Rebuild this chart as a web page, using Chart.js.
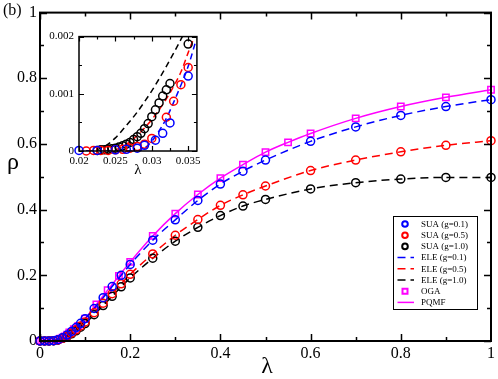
<!DOCTYPE html>
<html>
<head>
<meta charset="utf-8">
<script src="https://cdn.jsdelivr.net/npm/chart.js@4.4.1/dist/chart.umd.min.js"></script>
<style>
  body { margin: 0; background: #fff; }
  #wrap { position: relative; width: 498px; height: 379px; }
  #mainChart { position: absolute; left: 0; top: 0; }
  #insetChart { position: absolute; left: 40px; top: 25px; }
</style>
</head>
<body>
<div id="wrap">
  <canvas id="mainChart" width="498" height="379"></canvas>
  <canvas id="insetChart" width="165" height="155"></canvas>
</div>
<script>
// main panel
const lambdaSUA = [0, 0.01, 0.02, 0.03, 0.04, 0.05, 0.06, 0.07, 0.08, 0.09, 0.1, 0.12, 0.14, 0.16, 0.18, 0.2, 0.25, 0.3, 0.35, 0.4, 0.45, 0.5, 0.6, 0.7, 0.8, 0.9, 1.0];
const suaG01 = [0, 0, 0, 0.001, 0.004, 0.01, 0.018, 0.029, 0.041, 0.054, 0.068, 0.099, 0.132, 0.166, 0.2, 0.233, 0.307, 0.369, 0.428, 0.478, 0.517, 0.551, 0.608, 0.652, 0.687, 0.714, 0.735];
const suaG05 = [0, 0, 0, 0.001, 0.003, 0.008, 0.015, 0.024, 0.034, 0.046, 0.058, 0.086, 0.115, 0.144, 0.174, 0.203, 0.265, 0.322, 0.37, 0.413, 0.445, 0.472, 0.519, 0.551, 0.576, 0.596, 0.61];
const suaG10 = [0, 0, 0, 0.001, 0.003, 0.008, 0.014, 0.022, 0.031, 0.042, 0.053, 0.08, 0.108, 0.136, 0.165, 0.192, 0.252, 0.304, 0.346, 0.382, 0.411, 0.431, 0.463, 0.482, 0.493, 0.498, 0.498];
const lambdaOGA = [0, 0.005, 0.01, 0.015, 0.02, 0.025, 0.03, 0.035, 0.04, 0.045, 0.05, 0.055, 0.06, 0.065, 0.075, 0.085, 0.1, 0.125, 0.15, 0.175, 0.2, 0.25, 0.3, 0.35, 0.4, 0.45, 0.5, 0.55, 0.6, 0.7, 0.8, 0.9, 1.0];
const ogaValues = [0, 0, 0, 0, 0, 0, 0.001, 0.002, 0.004, 0.007, 0.01, 0.014, 0.019, 0.026, 0.036, 0.046, 0.068, 0.111, 0.155, 0.198, 0.241, 0.32, 0.388, 0.446, 0.496, 0.537, 0.575, 0.605, 0.632, 0.678, 0.714, 0.742, 0.765];
const mainXTicks = [0, 0.2, 0.4, 0.6, 0.8, 1];
const mainYTicks = [0, 0.2, 0.4, 0.6, 0.8, 1];
const mainXLabels = ["0", "0.2", "0.4", "0.6", "0.8", "1"];
const mainYLabels = ["0", "0.2", "0.4", "0.6", "0.8", "1"];

// inset
const insetLambdaG01 = [0.02, 0.0225, 0.025, 0.0265, 0.028, 0.029, 0.0305, 0.0315, 0.0325, 0.035];
const insetSuaG01 = [0.00001, 0.00001, 0.00002, 0.00003, 0.00005, 0.0001, 0.00019, 0.00031, 0.00049, 0.00131];
const insetLambdaG05 = [0.021, 0.022, 0.023, 0.024, 0.025, 0.026, 0.027, 0.028, 0.029, 0.03, 0.032, 0.033, 0.034, 0.035];
const insetSuaG05 = [0, 0.00001, 0.00001, 0.00001, 0.00002, 0.00003, 0.00005, 0.00008, 0.00012, 0.00022, 0.00059, 0.00087, 0.00116, 0.00146];
const insetLambdaG10 = [0.0225, 0.023, 0.0235, 0.024, 0.0245, 0.025, 0.0255, 0.026, 0.0265, 0.027, 0.0275, 0.028, 0.0285, 0.029, 0.0295, 0.03, 0.0305, 0.031, 0.0315, 0.032, 0.0325, 0.035];
const insetSuaG10 = [0.00001, 0.00002, 0.00002, 0.00003, 0.00004, 0.00005, 0.00007, 0.00009, 0.00012, 0.00015, 0.0002, 0.00025, 0.00031, 0.00039, 0.00048, 0.0006, 0.00072, 0.00084, 0.00096, 0.00107, 0.00118, 0.00187];
const eleLambda = [0.021, 0.022, 0.023, 0.024, 0.025, 0.026, 0.027, 0.028, 0.029, 0.03, 0.031, 0.032, 0.033, 0.034, 0.035, 0.036];
const eleG01 = [0, 0, 0, 0, 0, 0, 0, 0, 0.00005, 0.00017, 0.00035, 0.00057, 0.00085, 0.00115, 0.00148, 0.0019];
const eleG05 = [0, 0, 0, 0, 0.00002, 0.00008, 0.00016, 0.00027, 0.0004, 0.00055, 0.00072, 0.00091, 0.00113, 0.00138, 0.00172, 0.00205];
const eleG10 = [0, 0.00001, 0.00005, 0.00012, 0.00023, 0.00037, 0.00052, 0.00068, 0.00086, 0.00105, 0.00126, 0.00148, 0.00171, 0.00195, 0.0022, 0.00246];
const insetXTicks = [0.02, 0.025, 0.03, 0.035];
const insetYTicks = [0, 0.001, 0.002];
const insetXLabels = ["0.02", "0.025", "0.03", "0.035"];
const insetYLabels = ["0", "0.001", "0.002"];

const BLUE = "#0000ff", RED = "#ff0000", BLACK = "#000000", MAGENTA = "#ff00ff";
const SERIF = "Times New Roman, Liberation Serif, serif";

const pts = (xs, ys) => xs.map((x, i) => ({ x: x, y: ys[i] }));
const midpoints = (a) => a.slice(1).map((v, i) => (v + a[i]) / 2);

function circles(label, xs, ys, color, r) {
  return { label: label, data: pts(xs, ys), showLine: false, pointStyle: "circle",
    pointRadius: r, pointBorderWidth: 1.5, borderColor: color, backgroundColor: "transparent", clip: false };
}
function dashed(label, xs, ys, color, dash) {
  return { label: label, data: pts(xs, ys), showLine: true, pointRadius: 0, borderColor: color,
    borderWidth: 1.5, borderDash: dash, cubicInterpolationMode: "monotone", fill: false };
}

// box + inward ticks on all four sides
function framePlugin(cfg) {
  return {
    id: "frame",
    beforeDraw(chart) {
      if (!cfg.fill) return;
      const a = chart.chartArea, ctx = chart.ctx;
      ctx.save();
      ctx.fillStyle = "#fff";
      ctx.fillRect(a.left, a.top, a.right - a.left, a.bottom - a.top);
      ctx.restore();
    },
    afterDatasetsDraw(chart) {
      const ctx = chart.ctx, a = chart.chartArea, sx = chart.scales.x, sy = chart.scales.y;
      ctx.save();
      ctx.strokeStyle = "#000";
      ctx.lineWidth = cfg.tickWidth;
      ctx.beginPath();
      const xs = cfg.xTicks.map(v => [v, cfg.major]).concat(midpoints(cfg.xTicks).map(v => [v, cfg.minor]));
      xs.forEach(([v, len]) => {
        const p = Math.round(sx.getPixelForValue(v)) + 0.5;
        if (p < a.left || p > a.right) return;
        ctx.moveTo(p, a.bottom); ctx.lineTo(p, a.bottom - len);
        ctx.moveTo(p, a.top); ctx.lineTo(p, a.top + len);
      });
      const ys = cfg.yTicks.map(v => [v, cfg.major]).concat(midpoints(cfg.yTicks).map(v => [v, cfg.minor]));
      ys.forEach(([v, len]) => {
        const p = Math.round(sy.getPixelForValue(v)) + 0.5;
        ctx.moveTo(a.left, p); ctx.lineTo(a.left + len, p);
        ctx.moveTo(a.right, p); ctx.lineTo(a.right - len, p);
      });
      ctx.stroke();
      ctx.lineWidth = cfg.frameWidth;
      ctx.strokeRect(a.left, a.top, a.right - a.left, a.bottom - a.top);
      ctx.restore();
    }
  };
}

const mainLabels = {
  id: "mainLabels",
  afterDraw(chart) {
    const ctx = chart.ctx;
    ctx.save();
    ctx.fillStyle = "#000";
    ctx.textBaseline = "middle";
    ctx.font = "16px " + SERIF;
    ctx.textAlign = "left";
    ctx.fillText("(b)", 3, 11);
    ctx.font = "24px " + SERIF;
    ctx.textAlign = "center";
    ctx.fillText("ρ", 13, 163);
    ctx.fillText("λ", 267, 367);

    // legend
    const lx = 393.5, ly = 216.5, lw = 84, lh = 93;
    ctx.lineWidth = 1;
    ctx.strokeStyle = "#000";
    ctx.strokeRect(lx, ly, lw, lh);
    ctx.font = "9px " + SERIF;
    ctx.textAlign = "left";
    chart.data.datasets.forEach((ds, i) => {
      const y = 224 + i * 11.2;
      ctx.strokeStyle = ds.borderColor;
      if (ds.showLine) {
        ctx.lineWidth = 1.5;
        ctx.setLineDash(ds.borderDash || []);
        ctx.beginPath();
        ctx.moveTo(397.5, y); ctx.lineTo(414, y);
        ctx.stroke();
        ctx.setLineDash([]);
      } else {
        ctx.lineWidth = 2;
        ctx.beginPath();
        if (ds.pointStyle === "rect") ctx.rect(402.5, y - 2.5, 5, 5);
        else ctx.arc(405, y, 2.8, 0, Math.PI * 2);
        ctx.stroke();
      }
      ctx.fillStyle = "#000";
      ctx.fillText(ds.label, 421, y + 0.5);
    });
    ctx.restore();
  }
};

const insetLabels = {
  id: "insetLabels",
  afterDraw(chart) {
    const ctx = chart.ctx;
    ctx.save();
    ctx.fillStyle = "#000";
    ctx.font = "15px " + SERIF;
    ctx.textAlign = "center";
    ctx.textBaseline = "middle";
    ctx.fillText("λ", 98, 145);
    ctx.restore();
  }
};

function axis(min, max, ticks, labels, font, pad, size, isX) {
  return {
    type: "linear", min: min, max: max,
    grid: { display: false, drawTicks: false },
    border: { display: false },
    afterBuildTicks: (s) => { s.ticks = ticks.map(v => ({ value: v })); },
    afterFit: (s) => { if (isX) s.height = size; else s.width = size; },
    ticks: {
      color: "#000", padding: pad, maxRotation: 0, autoSkip: false,
      font: { family: SERIF, size: font },
      callback: (v) => { const i = ticks.indexOf(v); return i >= 0 ? labels[i] : ""; }
    }
  };
}

new Chart(document.getElementById("mainChart"), {
  type: "scatter",
  data: {
    datasets: [
      circles("SUA (g=0.1)", lambdaSUA, suaG01, BLUE, 4),
      circles("SUA (g=0.5)", lambdaSUA, suaG05, RED, 4),
      circles("SUA (g=1.0)", lambdaSUA, suaG10, BLACK, 4),
      dashed("ELE (g=0.1)", lambdaSUA, suaG01, BLUE, [8, 5]),
      dashed("ELE (g=0.5)", lambdaSUA, suaG05, RED, [8, 5]),
      dashed("ELE (g=1.0)", lambdaSUA, suaG10, BLACK, [8, 5]),
      { label: "OGA", data: pts(lambdaOGA, ogaValues), showLine: false, pointStyle: "rect",
        pointRadius: 4.5, pointBorderWidth: 1.5, borderColor: MAGENTA, backgroundColor: "transparent", clip: false },
      { label: "PQMF", data: pts(lambdaOGA, ogaValues), showLine: true, pointRadius: 0,
        borderColor: MAGENTA, borderWidth: 1.5, cubicInterpolationMode: "monotone", fill: false }
    ]
  },
  options: {
    responsive: false,
    animation: false,
    devicePixelRatio: 1,
    layout: { padding: { top: 10, right: 5, left: 0, bottom: 0 } },
    plugins: { legend: { display: false }, tooltip: { enabled: false } },
    scales: {
      x: axis(0, 1, mainXTicks, mainXLabels, 16, 3, 38, true),
      y: axis(0, 1, mainYTicks, mainYLabels, 16, 3, 40, false)
    }
  },
  plugins: [framePlugin({ xTicks: mainXTicks, yTicks: mainYTicks, major: 7, minor: 4, tickWidth: 1.5, frameWidth: 2, fill: false }), mainLabels]
});

new Chart(document.getElementById("insetChart"), {
  type: "scatter",
  data: {
    datasets: [
      circles("SUA (g=0.1)", insetLambdaG01, insetSuaG01, BLUE, 4),
      circles("SUA (g=0.5)", insetLambdaG05, insetSuaG05, RED, 4),
      circles("SUA (g=1.0)", insetLambdaG10, insetSuaG10, BLACK, 4),
      dashed("ELE (g=0.1)", eleLambda, eleG01, BLUE, [6, 4]),
      dashed("ELE (g=0.5)", eleLambda, eleG05, RED, [6, 4]),
      dashed("ELE (g=1.0)", eleLambda, eleG10, BLACK, [6, 4])
    ]
  },
  options: {
    responsive: false,
    animation: false,
    devicePixelRatio: 1,
    layout: { padding: { top: 8, right: 6, left: 0, bottom: 0 } },
    plugins: { legend: { display: false }, tooltip: { enabled: false } },
    scales: {
      x: axis(0.02, 0.0362, insetXTicks, insetXLabels, 11, 4, 29, true),
      y: axis(0, 0.002, insetYTicks, insetYLabels, 11, 5, 39, false)
    }
  },
  plugins: [framePlugin({ xTicks: insetXTicks, yTicks: insetYTicks, major: 5, minor: 3, tickWidth: 1.2, frameWidth: 1.5, fill: true }), insetLabels]
});
</script>
</body>
</html>
